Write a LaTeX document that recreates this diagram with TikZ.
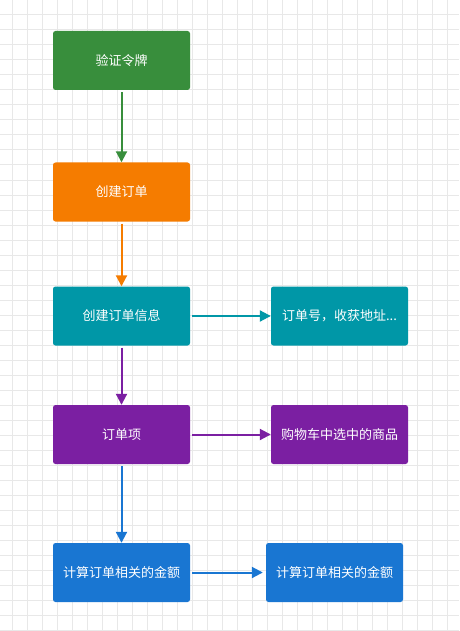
\documentclass[tikz,border=0pt]{standalone}
\usepackage{fontspec}
\setmainfont{Noto Sans CJK SC}
\usetikzlibrary{arrows.meta}
\definecolor{cgreen}{HTML}{388E3C}
\definecolor{corange}{HTML}{F57C00}
\definecolor{cteal}{HTML}{0097A7}
\definecolor{cpurple}{HTML}{7B1FA2}
\definecolor{cblue}{HTML}{1976D2}
\definecolor{gridc}{HTML}{E8E8E8}
\tikzset{
  box/.style={rounded corners=2.5pt, minimum width=137pt, minimum height=59pt, inner sep=0pt, text=white, font=\fontsize{13pt}{15pt}\selectfont},
  conn/.style={line width=2pt, -{Triangle[length=11pt,width=11pt]}, shorten <=2pt},
}
\begin{document}
\begin{tikzpicture}[x=1pt,y=-1pt]
\useasboundingbox (0,0) rectangle (459,631);
\fill[white] (0,0) rectangle (459,631);
\foreach \i in {0,...,30} {\draw[gridc, line width=1pt] ({12+15*\i},0) -- ({12+15*\i},631);}
\foreach \j in {1,...,42} {\draw[gridc, line width=1pt] (0,{15*\j}) -- (459,{15*\j});}
\node[box, fill=cgreen] (a) at (121.5,60.5) {验证令牌};
\node[box, fill=corange] (b) at (121.5,192) {创建订单};
\node[box, fill=cteal] (c) at (121.5,316) {创建订单信息};
\node[box, fill=cteal] (c2) at (339.5,316) {订单号，收获地址...};
\node[box, fill=cpurple] (d) at (121.5,434.5) {订单项};
\node[box, fill=cpurple] (d2) at (339.5,434.5) {购物车中选中的商品};
\node[box, fill=cblue] (e) at (121.5,572.5) {计算订单相关的金额};
\node[box, fill=cblue] (e2) at (334.5,572.5) {计算订单相关的金额};
\draw[conn, cgreen] (a) -- (b);
\draw[conn, corange] (b) -- (c);
\draw[conn, cpurple] (c) -- (d);
\draw[conn, cblue] (d) -- (e);
\draw[conn, cteal] (c) -- (c2);
\draw[conn, cpurple] (d) -- (d2);
\draw[conn, cblue, shorten >=3pt] (e) -- (e2);
\end{tikzpicture}
\end{document}
